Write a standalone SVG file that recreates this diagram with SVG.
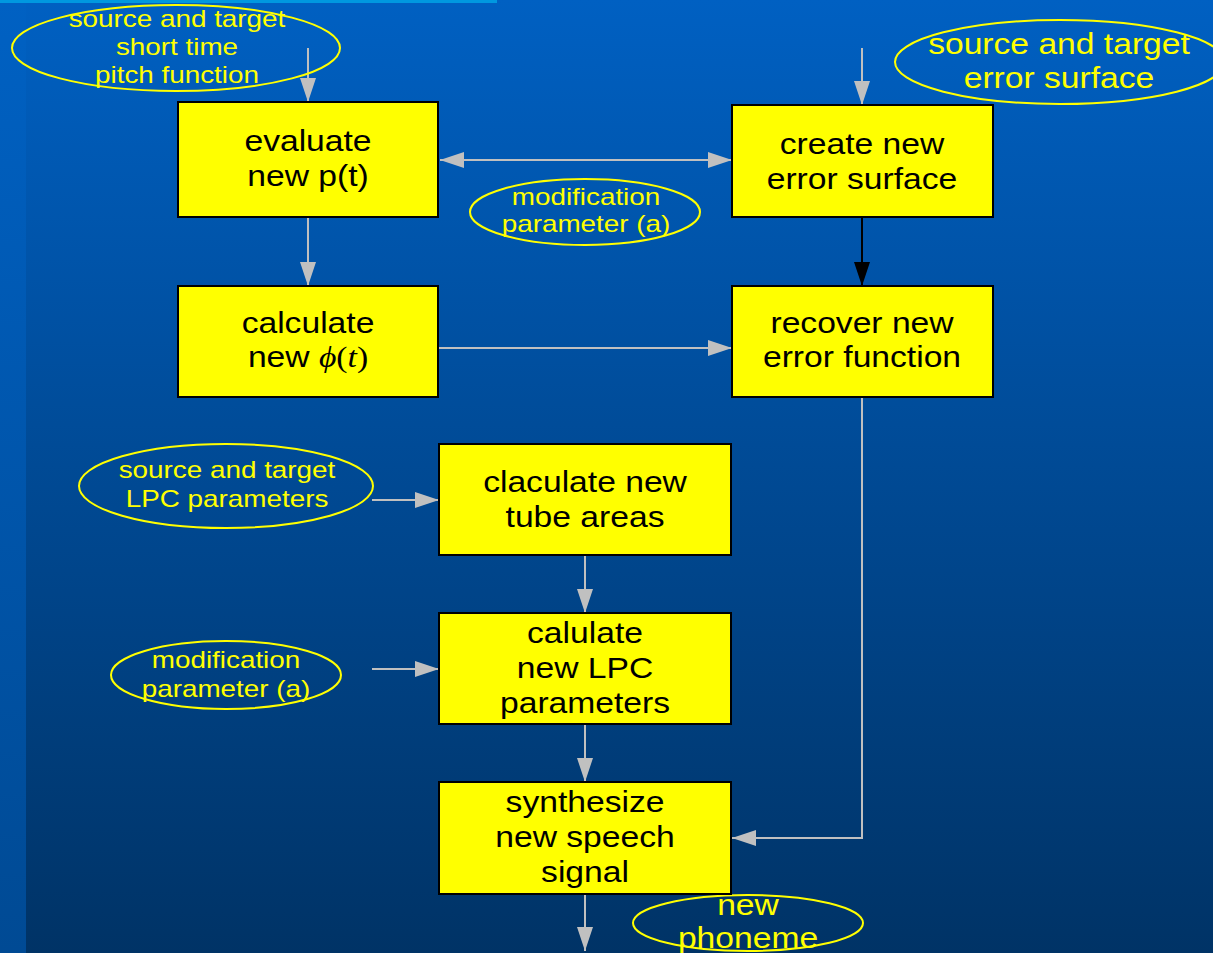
<svg xmlns="http://www.w3.org/2000/svg" width="1213" height="953" viewBox="0 0 1213 953">
  <defs>
    <linearGradient id="bg" x1="0" y1="0" x2="0" y2="1">
      <stop offset="0" stop-color="#0060c2"/>
      <stop offset="1" stop-color="#003366"/>
    </linearGradient>
    <linearGradient id="strip" x1="0" y1="0" x2="0" y2="1">
      <stop offset="0" stop-color="#0061c3"/>
      <stop offset="1" stop-color="#004a94"/>
    </linearGradient>
    <marker id="ah" markerUnits="userSpaceOnUse" viewBox="0 0 24 16" markerWidth="24" markerHeight="16" refX="24" refY="8" orient="auto-start-reverse">
      <path d="M0,0 L24,8 L0,16 Z" fill="#c0c0c0"/>
    </marker>
    <marker id="ahk" markerUnits="userSpaceOnUse" viewBox="0 0 24 16" markerWidth="24" markerHeight="16" refX="24" refY="8" orient="auto">
      <path d="M0,0 L24,8 L0,16 Z" fill="#000000"/>
    </marker>
  </defs>
  <style>
    .box rect { fill: #ffff00; stroke: #000000; stroke-width: 2; }
    .box text { font-family: "Liberation Sans", Arial, sans-serif; font-size: 29px; fill: #000000; text-anchor: middle; }
    .oval ellipse { fill: none; stroke: #ffff00; stroke-width: 2; }
    .oval text { font-family: "Liberation Sans", Arial, sans-serif; fill: #ffff00; text-anchor: middle; }
    .sm { font-size: 24px; }
    .lg { font-size: 29px; }
    .edge { fill: none; stroke: #c0c0c0; stroke-width: 2; marker-end: url(#ah); }
    .math { font-family: "Liberation Serif", "Times New Roman", serif; font-style: italic; }
    .up { font-style: normal; }
  </style>

  <!-- backdrop -->
  <rect x="0" y="0" width="1213" height="953" fill="url(#bg)"/>
  <rect x="0" y="0" width="26" height="953" fill="url(#strip)"/>
  <rect x="0" y="0" width="497" height="3" fill="#0098e0"/>

  <!-- connectors -->
  <g id="connectors">
    <line class="edge" x1="308" y1="48" x2="308" y2="102"/>
    <line class="edge" x1="862" y1="48" x2="862" y2="105"/>
    <line class="edge" x1="440" y1="160" x2="732" y2="160" marker-start="url(#ah)"/>
    <line x1="862" y1="217" x2="862" y2="286" stroke="#000000" stroke-width="2" marker-end="url(#ahk)"/>
    <line class="edge" x1="308" y1="217" x2="308" y2="286"/>
    <line class="edge" x1="438" y1="348" x2="732" y2="348"/>
    <line class="edge" x1="372" y1="500" x2="439" y2="500"/>
    <line class="edge" x1="585" y1="555" x2="585" y2="613"/>
    <line class="edge" x1="372" y1="669" x2="439" y2="669"/>
    <line class="edge" x1="585" y1="724" x2="585" y2="782"/>
    <polyline class="edge" points="862,397 862,838 732,838"/>
    <line class="edge" x1="585" y1="894" x2="585" y2="951"/>
  </g>

  <!-- input / output ovals -->
  <g id="pitch-input" class="oval">
    <ellipse cx="176" cy="48" rx="164" ry="43"/>
    <g transform="translate(177,0) scale(1.16,1)">
      <text class="sm"><tspan x="0" y="27">source and target</tspan><tspan x="0" y="55">short time</tspan><tspan x="0" y="83">pitch function</tspan></text>
    </g>
  </g>

  <g id="error-input" class="oval">
    <ellipse cx="1060" cy="62" rx="165" ry="42"/>
    <g transform="translate(1059,0) scale(1.16,1)">
      <text class="lg"><tspan x="0" y="54">source and target</tspan><tspan x="0" y="88">error surface</tspan></text>
    </g>
  </g>

  <g id="mod-param-1" class="oval">
    <ellipse cx="585" cy="212" rx="115" ry="33"/>
    <g transform="translate(586,0) scale(1.16,1)">
      <text class="sm"><tspan x="0" y="205">modification</tspan><tspan x="0" y="232">parameter (a)</tspan></text>
    </g>
  </g>

  <g id="lpc-input" class="oval">
    <ellipse cx="226" cy="486" rx="147" ry="42"/>
    <g transform="translate(227,0) scale(1.16,1)">
      <text class="sm"><tspan x="0" y="478">source and target</tspan><tspan x="0" y="507">LPC parameters</tspan></text>
    </g>
  </g>

  <g id="mod-param-2" class="oval">
    <ellipse cx="226" cy="675" rx="115" ry="34"/>
    <g transform="translate(226,0) scale(1.16,1)">
      <text class="sm"><tspan x="0" y="668">modification</tspan><tspan x="0" y="697">parameter (a)</tspan></text>
    </g>
  </g>

  <g id="phoneme-output" class="oval">
    <ellipse cx="748" cy="923" rx="115" ry="28"/>
    <g transform="translate(748,0) scale(1.16,1)">
      <text class="lg"><tspan x="0" y="915">new</tspan><tspan x="0" y="948">phoneme</tspan></text>
    </g>
  </g>

  <!-- processing steps -->
  <g id="evaluate-pitch" class="box">
    <rect x="178" y="102" width="260" height="115"/>
    <g transform="translate(308,0) scale(1.16,1)">
      <text><tspan x="0" y="151">evaluate</tspan><tspan x="0" y="186">new p(t)</tspan></text>
    </g>
  </g>

  <g id="create-error-surface" class="box">
    <rect x="732" y="105" width="261" height="112"/>
    <g transform="translate(862,0) scale(1.16,1)">
      <text><tspan x="0" y="154">create new</tspan><tspan x="0" y="189">error surface</tspan></text>
    </g>
  </g>

  <g id="calculate-phase" class="box">
    <rect x="178" y="286" width="260" height="111"/>
    <g transform="translate(308,0) scale(1.16,1)">
      <text><tspan x="0" y="333">calculate</tspan><tspan x="0" y="367">new <tspan class="math">ϕ<tspan class="up">(</tspan>t<tspan class="up">)</tspan></tspan></tspan></text>
    </g>
  </g>

  <g id="recover-error-function" class="box">
    <rect x="732" y="286" width="261" height="111"/>
    <g transform="translate(862,0) scale(1.16,1)">
      <text><tspan x="0" y="333">recover new</tspan><tspan x="0" y="367">error function</tspan></text>
    </g>
  </g>

  <g id="tube-areas" class="box">
    <rect x="439" y="444" width="292" height="111"/>
    <g transform="translate(585,0) scale(1.16,1)">
      <text><tspan x="0" y="492">claculate new</tspan><tspan x="0" y="527">tube areas</tspan></text>
    </g>
  </g>

  <g id="new-lpc" class="box">
    <rect x="439" y="613" width="292" height="111"/>
    <g transform="translate(585,0) scale(1.16,1)">
      <text><tspan x="0" y="643">calulate</tspan><tspan x="0" y="678">new LPC</tspan><tspan x="0" y="713">parameters</tspan></text>
    </g>
  </g>

  <g id="synthesize" class="box">
    <rect x="439" y="782" width="292" height="112"/>
    <g transform="translate(585,0) scale(1.16,1)">
      <text><tspan x="0" y="812">synthesize</tspan><tspan x="0" y="847">new speech</tspan><tspan x="0" y="882">signal</tspan></text>
    </g>
  </g>
</svg>
